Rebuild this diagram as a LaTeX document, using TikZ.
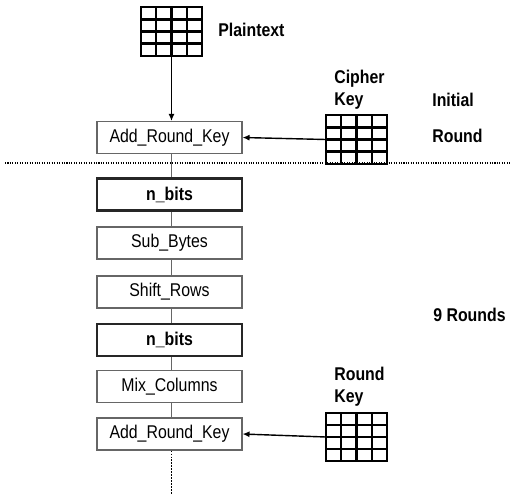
\documentclass[tikz,border=0pt]{standalone}
\usepackage{fontspec}
\setmainfont[FakeStretch=0.86]{Liberation Sans}
\usetikzlibrary{arrows.meta,calc}

\tikzset{
  stagebox/.style={draw=black!60, line width=0.6pt, minimum width=2.9cm, minimum height=0.64cm, inner sep=0pt, font=\fontsize{10.5}{12}\selectfont},
  bitsbox/.style={stagebox, draw=black!85, line width=1.3pt, font=\bfseries\fontsize{10.5}{12}\selectfont},
  keygrid/.style={draw, line width=1.3pt, minimum width=1.22cm, minimum height=0.97cm, inner sep=0pt, outer sep=0pt},
  gridline/.style={line width=1.3pt},
  lbl/.style={anchor=west, align=left, inner sep=0pt, font=\bfseries\fontsize{10.5}{12.5}\selectfont}
}

\begin{document}
\begin{tikzpicture}[x=0.02cm, y=-0.02cm, >={Latex[length=4pt,width=3.5pt]}]
            \useasboundingbox (0,0) rectangle (511,495);

            \node[keygrid] (ptgrid) at (171.5, 31.5) {};
            \node[keygrid] (ckgrid) at (356.5, 139.5) {};
            \node[keygrid] (rkgrid) at (356.5, 437) {};

            \foreach \g in {ptgrid, ckgrid, rkgrid} {
              \foreach \i in {1,2,3} {
                \draw[gridline] ($(\g.north west)!\i/4!(\g.north east)$) -- ($(\g.south west)!\i/4!(\g.south east)$);
                \draw[gridline] ($(\g.north west)!\i/4!(\g.south west)$) -- ($(\g.north east)!\i/4!(\g.south east)$);
              }
            }

            \node[stagebox] (ark1) at (169.5, 137.5) {Add\_Round\_Key};
            \node[bitsbox]  (nb1)  at (169.5, 194.5) {n\_bits};
            \node[stagebox] (sb)   at (169.5, 243)   {Sub\_Bytes};
            \node[stagebox] (sr)   at (169.5, 292)   {Shift\_Rows};
            \node[bitsbox]  (nb2)  at (169.5, 340)   {n\_bits};
            \node[stagebox] (mc)   at (169.5, 386.5) {Mix\_Columns};
            \node[stagebox] (ark2) at (169.5, 434)   {Add\_Round\_Key};

            \node[lbl] (ptlbl)   at (218, 30)  {Plaintext};
            \node[lbl] (cklbl)   at (334, 90)  {Cipher\\Key};
            \node[lbl] (initlbl) at (432, 100) {Initial};
            \node[lbl] (rndlbl)  at (432, 136) {Round};
            \node[lbl] (rklbl)   at (334, 387) {Round\\Key};
            \node[lbl] (ninelbl) at (433, 315) {9 Rounds};

            \coordinate (sepl) at (5, 163);
            \coordinate (sepr) at (511, 163);
            \coordinate (tail) at (171.5, 495);

            \draw[->, line width=0.8pt] (ptgrid.south) -- (ark1.north -| ptgrid.south);
            \draw[->, line width=0.8pt] (ckgrid.west) -- (ark1.east);
            \draw[->, line width=0.8pt] (rkgrid.west) -- (ark2.east);
            \draw[black!60] (ark1.south -| ptgrid.south) -- (nb1.north -| ptgrid.south);
            \draw[black!60] (nb1.south -| ptgrid.south) -- (sb.north -| ptgrid.south);
            \draw[black!60] (sb.south -| ptgrid.south) -- (sr.north -| ptgrid.south);
            \draw[black!60] (sr.south -| ptgrid.south) -- (nb2.north -| ptgrid.south);
            \draw[black!60] (nb2.south -| ptgrid.south) -- (mc.north -| ptgrid.south);
            \draw[black!60] (mc.south -| ptgrid.south) -- (ark2.north -| ptgrid.south);
            \draw[densely dotted, line width=0.7pt] (ark2.south -| tail) -- (tail);
            \draw[dash pattern=on 0.6pt off 0.8pt, line width=0.6pt] (sepl) -- (sepr);
        \end{tikzpicture}
\end{document}
